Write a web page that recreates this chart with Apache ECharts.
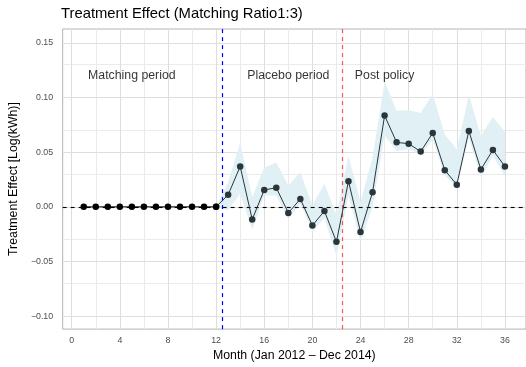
<!DOCTYPE html>
<html>
<head>
<meta charset="utf-8">
<script src="https://cdn.jsdelivr.net/npm/echarts@6/dist/echarts.min.js"></script>
<style>html,body{margin:0;padding:0;background:#fff;}#c{width:526px;height:367px;}</style>
</head>
<body>
<div id="c"></div>
<script>
var months = [1,2,3,4,5,6,7,8,9,10,11,12,13,14,15,16,17,18,19,20,21,22,23,24,25,26,27,28,29,30,31,32,33,34,35,36];
var effect = [0,0,0,0,0,0,0,0,0,0,0,0,
  0.011,0.037,-0.0115,0.0155,0.0175,-0.0055,0.0072,-0.017,-0.0038,-0.032,0.0235,-0.023,
  0.0134,0.0835,0.059,0.0578,0.0506,0.0676,0.0336,0.0203,0.0695,0.0342,0.0521,0.0369];
var ciMonths = [12,13,14,15,16,17,18,19,20,21,22,23,24,25,26,27,28,29,30,31,32,33,34,35,36];
var ciUpper = [0,0.0226,0.0587,0.009,0.036,0.0405,0.0196,0.0316,0.0015,0.021,-0.0075,0.0467,0.0045,
  0.045,0.1145,0.088,0.0883,0.0858,0.1033,0.0663,0.0527,0.1024,0.0648,0.0822,0.0687];
var ciLower = [0,-0.003,0.012,-0.021,0.0105,0.0105,-0.011,0.003,-0.0226,-0.0105,-0.045,0.0105,-0.0316,
  0.0,0.065,0.0512,0.0527,0.048,0.0617,0.029,0.018,0.063,0.027,0.0467,0.028];
var xTicks = [0,4,8,12,16,20,24,28,32,36];
var xMinor = [2,6,10,14,18,22,26,30,34];
var yTicks = [-0.10,-0.05,0.00,0.05,0.10,0.15];
var yMinor = [-0.075,-0.025,0.025,0.075,0.125];
var periodBreaks = [12.5, 22.5];
var annotations = [
  {x: 5, y: 0.12, text: 'Matching period'},
  {x: 18, y: 0.12, text: 'Placebo period'},
  {x: 26, y: 0.12, text: 'Post policy'}
];

var FONT = 'Liberation Sans, Arial, Helvetica, sans-serif';
var preData = [], postData = [];
for (var i = 0; i < months.length; i++) {
  if (months[i] <= 12) preData.push([months[i], effect[i]]);
  if (months[i] >= 12) postData.push([months[i], effect[i]]);
}
var bandData = [];
for (var j = 0; j < ciMonths.length; j++) bandData.push([ciMonths[j], ciLower[j], ciUpper[j]]);

function gridLines(vals, axis, color) {
  return vals.map(function (v) {
    var o = {lineStyle: {color: color, width: 1, type: 'solid'}};
    o[axis] = v;
    return o;
  });
}
var gridMarks = [].concat(
  gridLines(xMinor, 'xAxis', '#EBEBEB'),
  gridLines(yMinor, 'yAxis', '#EBEBEB'),
  gridLines(xTicks, 'xAxis', '#DEDEDE'),
  gridLines(yTicks, 'yAxis', '#DEDEDE')
);

var chart = echarts.init(document.getElementById('c'), null, {renderer: 'canvas'});
chart.setOption({
  animation: false,
  backgroundColor: '#ffffff',
  title: {
    text: 'Treatment Effect (Matching Ratio1:3)',
    left: 61, top: 6, padding: 0,
    textStyle: {fontFamily: FONT, fontSize: 14.8, fontWeight: 'normal', color: '#000'}
  },
  grid: {left: 62, top: 29, width: 470, height: 303, show: true, borderColor: '#B3B3B3', borderWidth: 1, backgroundColor: 'transparent'},
  xAxis: {
    type: 'value', min: -0.75, max: 37.75,
    name: 'Month (Jan 2012 \u2013 Dec 2014)', nameLocation: 'middle', nameGap: 17,
    nameTextStyle: {fontFamily: FONT, fontSize: 12.3, color: '#000'},
    axisLine: {show: false},
    axisTick: {show: true, customValues: xTicks, length: 3, lineStyle: {color: '#B3B3B3'}},
    axisLabel: {customValues: xTicks, fontFamily: FONT, fontSize: 8.8, color: '#4D4D4D', margin: 7},
    splitLine: {show: false}
  },
  yAxis: {
    type: 'value', min: -0.1118, max: 0.1627,
    name: 'Treatment Effect [Log(kWh)]', nameLocation: 'middle', nameGap: 31, nameRotate: 90,
    nameTextStyle: {fontFamily: FONT, fontSize: 12.3, color: '#000'},
    axisLine: {show: false},
    axisTick: {show: true, customValues: yTicks, length: 3, lineStyle: {color: '#B3B3B3'}},
    axisLabel: {customValues: yTicks, fontFamily: FONT, fontSize: 8.8, color: '#4D4D4D', margin: 9.5,
      formatter: function (v) { return (v < 0 ? '\u2212' : '') + Math.abs(v).toFixed(2); }},
    splitLine: {show: false}
  },
  series: [
    {
      type: 'line', data: [], silent: true, z: 1,
      markLine: {z: 1, silent: true, symbol: 'none', label: {show: false}, animation: false, data: gridMarks}
    },
    {
      type: 'custom', silent: true, z: 2,
      data: bandData,
      renderItem: function (params, api) {
        if (params.dataIndex !== 0) return null;
        var up = [], lo = [];
        for (var k = 0; k < bandData.length; k++) {
          up.push(api.coord([bandData[k][0], bandData[k][2]]));
          lo.push(api.coord([bandData[k][0], bandData[k][1]]));
        }
        var pts = up.concat(lo.reverse());
        return {type: 'polygon', shape: {points: pts}, style: {fill: '#E1F0F5', stroke: null}};
      }
    },
    {
      type: 'line', data: [], silent: true, z: 3,
      markLine: {z: 3, silent: true, symbol: 'none', label: {show: false}, animation: false, data: [
        {yAxis: 0, lineStyle: {color: '#000', width: 1.1, type: [4, 4]}},
        {xAxis: periodBreaks[0], lineStyle: {color: '#0000FF', width: 1.2, type: [4, 4]}},
        {xAxis: periodBreaks[1], lineStyle: {color: '#FF5050', width: 1.2, type: [4, 4]}}
      ]}
    },
    {
      type: 'line', data: postData, symbol: 'circle', symbolSize: 6.5, silent: true, z: 10,
      lineStyle: {color: '#2B363B', width: 1},
      itemStyle: {color: '#2B363B', borderWidth: 0}
    },
    {
      type: 'line', data: preData, symbol: 'circle', symbolSize: 6.5, silent: true, z: 11,
      lineStyle: {color: '#000', width: 1},
      itemStyle: {color: '#000', borderWidth: 0}
    },
    {
      type: 'scatter', symbolSize: 0, silent: true, z: 12,
      data: annotations.map(function (a) { return {value: [a.x, a.y], name: a.text}; }),
      label: {show: true, position: 'inside', formatter: function (p) { return p.name; },
        fontFamily: FONT, fontSize: 12.3, color: '#000', textBorderWidth: 0}
    }
  ]
});
</script>
</body>
</html>
